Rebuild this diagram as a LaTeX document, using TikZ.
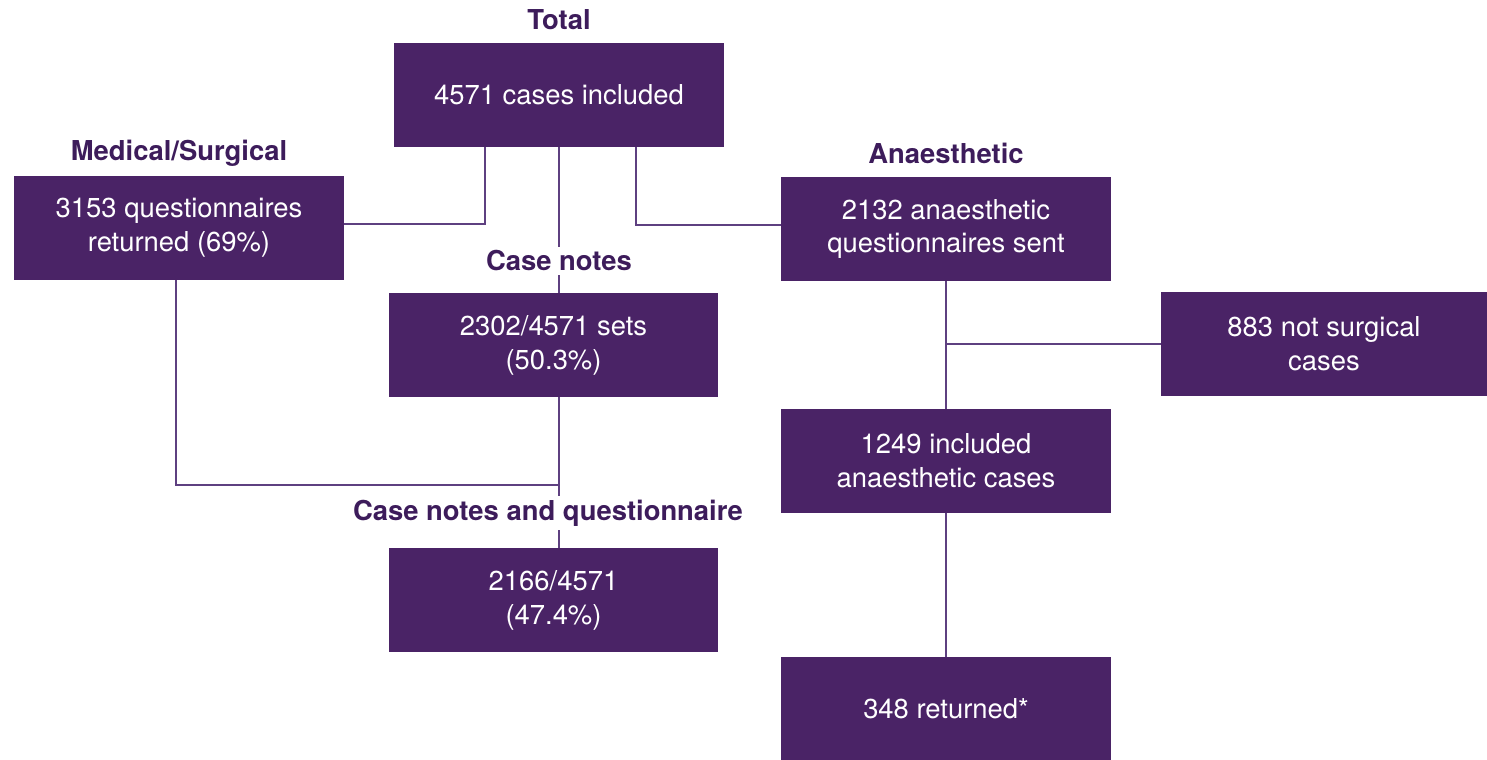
\documentclass[tikz,border=0pt]{standalone}
\usepackage{fontspec}
\setmainfont{TeX Gyre Heros}
\usetikzlibrary{calc}
\usetikzlibrary{positioning}

\definecolor{boxpurple}{HTML}{4A2366}
\definecolor{titlepurple}{HTML}{3D1C5B}
\definecolor{linkpurple}{HTML}{5E4080}

\begin{document}
\begin{tikzpicture}[%
  x=0.02cm, y=-0.02cm,
  box/.style={fill=boxpurple, text=white, minimum width=6.6cm,
    minimum height=2.08cm, align=center, inner sep=0pt,
    font=\fontsize{15.6}{19.3}\selectfont},
  heading/.style={text=titlepurple, inner sep=2pt,
    font=\fontsize{15.6}{19.3}\selectfont\bfseries},
  link/.style={draw=linkpurple, line width=0.85pt}
]

  \useasboundingbox (0,0) rectangle (1487,760);

  \node[box] (total) at (559,95) {4571 cases included};
  \node[box] (medsurg) at (179,228) {3153 questionnaires\\returned (69\%)};
  \node[box] (anaes) at (946,229) {2132 anaesthetic\\questionnaires sent};
  \node[box, minimum width=6.58cm] (casenotes) at (553.5,345) {2302/4571 sets\\(50.3\%)};
  \node[box, minimum width=6.52cm] (notsurg) at (1324,344) {883 not surgical\\cases};
  \node[box] (incl) at (946,461) {1249 included\\anaesthetic cases};
  \node[box, minimum width=6.58cm] (cq) at (553.5,600) {2166/4571\\(47.4\%)};
  \node[box, minimum height=2.06cm] (ret) at (946,708.5) {348 returned*};

  \node[heading] (totaltitle) at (559,20) {Total};
  \node[heading] (medtitle) at (179,153) {Medical/Surgical};
  \node[heading] (anaestitle) at (946,153) {Anaesthetic};
  \node[heading] (cntitle) at (559,261) {Case notes};
  \node[heading] (cqtitle) at (548,513) {Case notes and questionnaire};

  \coordinate (join) at (559,485);

  \draw[link] ($(total.south)+(-74,0)$) |- ($(medsurg.east)+(0,-4)$);
  \draw[link] ($(total.south)+(77,0)$) |- ($(anaes.west)+(0,-4)$);
  \draw[link] (total.south) -- (cntitle.north);
  \draw[link] (cntitle.south) -- (casenotes.north -| cntitle.south);

  \draw[link] (medsurg.south -| 176,0) |- (join);
  \draw[link] (casenotes.south -| join) -- (join) -- (cqtitle.north -| join);
  \draw[link] (cqtitle.south -| join) -- (cq.north -| join);

  \draw[link] (anaes.south) -- (incl.north);
  \draw[link] (notsurg.west) -- (notsurg.west -| anaes.south);
  \draw[link] (incl.south) -- (ret.north);

\end{tikzpicture}
\end{document}
